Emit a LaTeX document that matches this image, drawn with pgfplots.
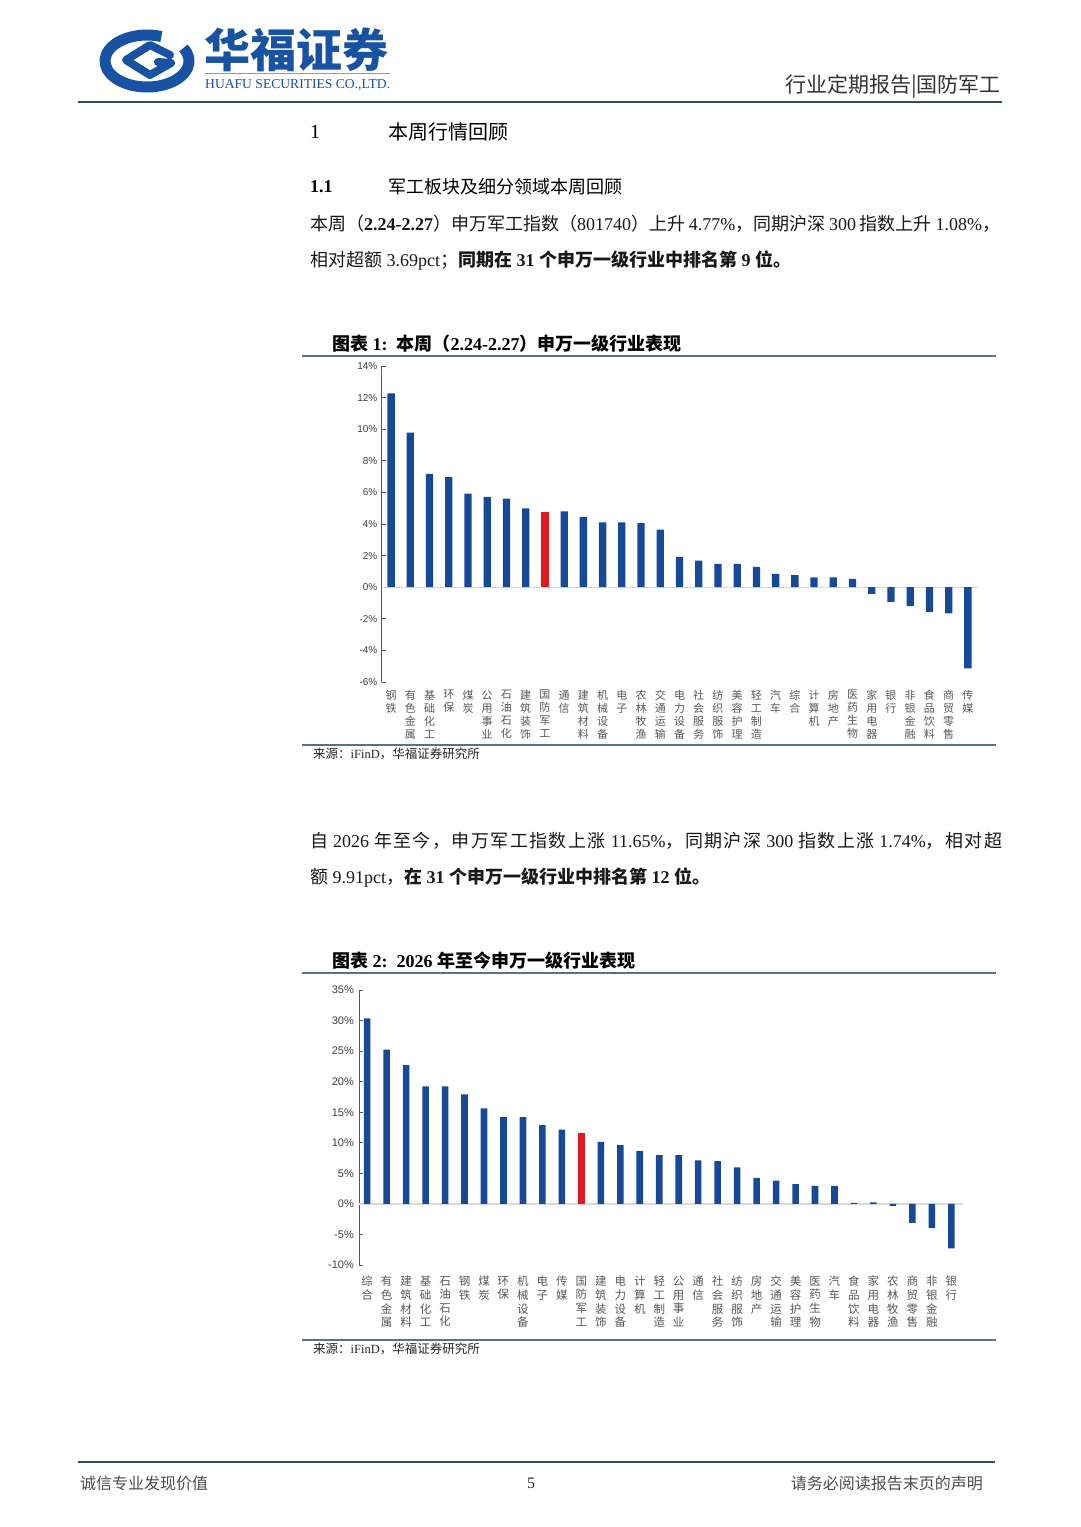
\documentclass[border=0pt]{standalone}
\usepackage{fontspec}
\usepackage{graphicx}
\usepackage{pgfplots}
\pgfplotsset{compat=1.18}
\setmainfont{Liberation Serif}
\newfontfamily\cjk{Noto Sans CJK SC}
\newfontfamily\cjkls[LetterSpace=8]{Noto Sans CJK SC}
\newfontfamily\arial{Liberation Sans}
\definecolor{barblue}{RGB}{22,74,152}
\definecolor{barred}{RGB}{228,22,30}
\definecolor{logoblue}{RGB}{24,82,162}
\definecolor{slate}{RGB}{52,78,92}
\definecolor{rulegray}{RGB}{96,112,124}
\newcommand{\fs}[1]{\fontsize{#1}{#1}\selectfont}

\pgfplotsset{
  sw bars/.style={
    scale only axis, anchor=south west, clip=false,
    ybar, axis lines*=left,
    x axis line style={draw=none},
    y axis line style={draw=black!65, line width=0.8pt},
    xtick={0,...,30}, xtick style={draw=none},
    ytick style={draw=black!65, line width=0.8pt},
    tick align=inside, major tick length=4pt,
    xticklabel style={align=center, anchor=north, inner sep=0pt, text=black!65},
    yticklabel style={text=black!75, inner sep=2pt},
  },
}

\begin{document}
\begin{tikzpicture}
\path[use as bounding box] (0,0) rectangle (1080pt,-1527pt);
\fill[white] (0,0) rectangle (1080pt,-1527pt);
\begin{scope}[x=1pt,y=-1pt,every node/.style={inner sep=0pt}]
% header
\draw[logoblue, line width=11pt] (183.4,48) arc[start angle=-30, end angle=290, x radius=42, y radius=26];
\draw[logoblue, line width=8pt, line join=round, line cap=round] (170,55) -- (150,45) -- (126,60) -- (150,75) -- (171,63) -- (158,62);
\node[anchor=west, text=logoblue] at (204,50) {\cjk\bfseries\fs{46}华福证券};
\draw[black!40, line width=0.8pt] (205,73) -- (390,73);
\node[anchor=west, text=logoblue] at (205,85) {\resizebox{185pt}{9pt}{HUAFU SECURITIES CO.,LTD.}};
\node[anchor=east, text=black!80] at (1001,87) {\cjk\fs{21}行业定期报告|国防军工};
\draw[slate, line width=2.5pt] (78,102) -- (1002,102);
% section heads
\node[anchor=west] at (310,132) {\fs{20}1};
\node[anchor=west] at (388,132) {\cjk\fs{20}本周行情回顾};
\node[anchor=west] at (310,187) {\fs{18}\bfseries 1.1};
\node[anchor=west] at (388,187) {\cjk\fs{18}军工板块及细分领域本周回顾};
% paragraph 1
\node[anchor=west, text=black!90] at (310,224) {\fs{18}\makebox[690pt][s]{{\cjk 本周（}\textbf{2.24-2.27}{\cjk ）申万军工指数（}801740{\cjk ）上升} 4.77\%{\cjk ，同期沪深} 300 {\cjk 指数上升} 1.08\%{\cjk ，}}};
\node[anchor=west, text=black!90] at (310,261) {\fs{18}{\cjk 相对超额} 3.69pct{\cjk ；}\bfseries{\cjk 同期在} 31 {\cjk 个申万一级行业中排名第} 9 {\cjk 位。}};
% chart 1 frame
\node[anchor=west] at (332,344) {\fs{18}\bfseries{\cjk 图表} 1:\ \ {\cjk 本周（}2.24-2.27{\cjk ）申万一级行业表现}};
\draw[rulegray, line width=1.5pt] (302,356) -- (996,356);
\draw[rulegray, line width=1.5pt] (302,745) -- (996,745);
\node[anchor=west, text=black!85] at (313,754) {\fs{12.5}{\cjk 来源：}iFinD{\cjk ，华福证券研究所}};
% paragraph 2
\node[anchor=west, text=black!90] at (310,841) {\fs{18}\makebox[692pt][s]{{\cjkls 自} 2026 {\cjkls 年至今，申万军工指数上涨} 11.65\%{\cjkls ，同期沪深} 300 {\cjkls 指数上涨} 1.74\%{\cjkls ，相对超}}};
\node[anchor=west, text=black!90] at (310,878) {\fs{18}{\cjk 额} 9.91pct{\cjk ，}\bfseries{\cjk 在} 31 {\cjk 个申万一级行业中排名第} 12 {\cjk 位。}};
% chart 2 frame
\node[anchor=west] at (332,961) {\fs{18}\bfseries{\cjk 图表} 2:\ \ 2026 {\cjk 年至今申万一级行业表现}};
\draw[rulegray, line width=1.5pt] (302,973) -- (996,973);
\draw[rulegray, line width=1.5pt] (302,1340) -- (996,1340);
\node[anchor=west, text=black!85] at (313,1349) {\fs{12.5}{\cjk 来源：}iFinD{\cjk ，华福证券研究所}};
% footer
\draw[slate, line width=2.5pt] (78,1462) -- (995,1462);
\node[anchor=west, text=black!70] at (80,1483) {\cjk\fs{16}诚信专业发现价值};
\node[text=black!85] at (531,1483) {\fs{16}5};
\node[anchor=east, text=black!70] at (983,1483) {\cjk\fs{16}请务必阅读报告末页的声明};
\end{scope}

% chart 1
\begin{axis}[sw bars,
  at={(381.5pt,-682pt)}, width=596pt, height=316pt,
  xmin=-0.5, xmax=30.5, ymin=-6, ymax=14,
  ytick={-6,-4,...,14},
  yticklabels={-6\%,-4\%,-2\%,0\%,2\%,4\%,6\%,8\%,10\%,12\%,14\%},
  yticklabel style={font=\arial\fs{10}, xshift=-2pt},
  xticklabel style={font=\cjk\fontsize{11}{13}\selectfont, yshift=-8pt},
  xticklabels={{钢\\铁},{有\\色\\金\\属},{基\\础\\化\\工},{环\\保},{煤\\炭},{公\\用\\事\\业},{石\\油\\石\\化},{建\\筑\\装\\饰},{国\\防\\军\\工},{通\\信},{建\\筑\\材\\料},{机\\械\\设\\备},{电\\子},{农\\林\\牧\\渔},{交\\通\\运\\输},{电\\力\\设\\备},{社\\会\\服\\务},{纺\\织\\服\\饰},{美\\容\\护\\理},{轻\\工\\制\\造},{汽\\车},{综\\合},{计\\算\\机},{房\\地\\产},{医\\药\\生\\物},{家\\用\\电\\器},{银\\行},{非\\银\\金\\融},{食\\品\\饮\\料},{商\\贸\\零\\售},{传\\媒}},
]
\draw[black!15, line width=1.2pt] (axis cs:-0.5,0) -- (axis cs:30.5,0);
\addplot[fill=barblue, draw=none, bar width=7.3pt, bar shift=0pt] coordinates {
 (0,12.27) (1,9.79) (2,7.18) (3,6.97) (4,5.92) (5,5.71) (6,5.60) (7,4.99)
 (9,4.80) (10,4.44) (11,4.11) (12,4.11) (13,4.06) (14,3.64) (15,1.92)
 (16,1.68) (17,1.47) (18,1.47) (19,1.28) (20,0.84) (21,0.76) (22,0.63)
 (23,0.63) (24,0.53) (25,-0.42) (26,-0.93) (27,-1.20) (28,-1.56) (29,-1.66) (30,-5.14)};
\addplot[fill=barred, draw=none, bar width=7.3pt, bar shift=0pt] coordinates {(8,4.77)};
\end{axis}

% chart 2
\begin{axis}[sw bars,
  at={(359pt,-1265pt)}, width=604pt, height=275pt,
  xmin=-0.42, xmax=30.6, ymin=-10, ymax=35,
  ytick={-10,-5,...,35},
  yticklabels={-10\%,-5\%,0\%,5\%,10\%,15\%,20\%,25\%,30\%,35\%},
  yticklabel style={font=\arial\fs{11}, xshift=-3pt},
  xticklabel style={font=\cjk\fontsize{11.5}{13.6}\selectfont, yshift=-11pt},
  xticklabels={{综\\合},{有\\色\\金\\属},{建\\筑\\材\\料},{基\\础\\化\\工},{石\\油\\石\\化},{钢\\铁},{煤\\炭},{环\\保},{机\\械\\设\\备},{电\\子},{传\\媒},{国\\防\\军\\工},{建\\筑\\装\\饰},{电\\力\\设\\备},{计\\算\\机},{轻\\工\\制\\造},{公\\用\\事\\业},{通\\信},{社\\会\\服\\务},{纺\\织\\服\\饰},{房\\地\\产},{交\\通\\运\\输},{美\\容\\护\\理},{医\\药\\生\\物},{汽\\车},{食\\品\\饮\\料},{家\\用\\电\\器},{农\\林\\牧\\渔},{商\\贸\\零\\售},{非\\银\\金\\融},{银\\行}},
]
\draw[black!15, line width=1.2pt] (axis cs:-0.42,0) -- (axis cs:30.6,0);
\addplot[fill=barblue, draw=none, bar width=6.6pt, bar shift=0pt] coordinates {
 (0,30.35) (1,25.26) (2,22.69) (3,19.25) (4,19.25) (5,17.93) (6,15.64) (7,14.22)
 (8,14.22) (9,12.90) (10,12.14) (12,10.17) (13,9.62) (14,8.69) (15,7.98)
 (16,7.98) (17,7.11) (18,7.00) (19,5.96) (20,4.26) (21,3.83) (22,3.23)
 (23,2.95) (24,2.95) (25,0.16) (26,0.27) (27,-0.33) (28,-3.10) (29,-3.97) (30,-7.28)};
\addplot[fill=barred, draw=none, bar width=6.6pt, bar shift=0pt] coordinates {(11,11.65)};
\end{axis}
\end{tikzpicture}
\end{document}
